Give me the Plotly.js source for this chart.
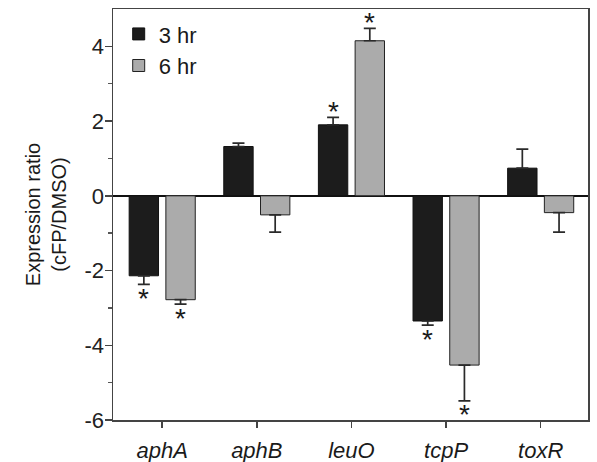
<!DOCTYPE html>
<html><head><meta charset="utf-8">
<script src="https://cdn.plot.ly/plotly-3.0.1.min.js"></script>
<style>html,body{margin:0;padding:0;background:#fff}#chart{width:597px;height:462px}</style>
</head><body><div id="chart"></div>
<script>
const genes = ['aphA', 'aphB', 'leuO', 'tcpP', 'toxR'];
const seriesNames = ['3 hr', '6 hr'];
const ratio3hr = [-2.14, 1.32, 1.90, -3.35, 0.74];
const err3hr = [0.23, 0.09, 0.20, 0.11, 0.51];
const ratio6hr = [-2.78, -0.51, 4.15, -4.53, -0.45];
const err6hr = [0.12, 0.46, 0.33, 0.96, 0.52];
const sig3hr = [true, false, true, true, false];
const sig6hr = [true, false, true, true, false];
const yTickVals = [-6, -4, -2, 0, 2, 4];
const yTickText = ['-6', '-4', '-2', '0', '2', '4'];
const yMinorVals = [-5, -3, -1, 1, 3];

const FONT = 'Liberation Sans, Arial, sans-serif';
const TXT = '#1a1a1a';

function errObj(vals, errs) {
  return {
    type: 'data', symmetric: false,
    array: vals.map((v, i) => v >= 0 ? errs[i] : 0),
    arrayminus: vals.map((v, i) => v < 0 ? errs[i] : 0),
    color: '#2a2a2a', thickness: 1.7, width: 6, visible: true
  };
}

const traces = [
  {type: 'bar', name: seriesNames[0], x: genes, y: ratio3hr,
   marker: {color: '#1c1c1c', line: {color: '#111', width: 1}},
   error_y: errObj(ratio3hr, err3hr)},
  {type: 'bar', name: seriesNames[1], x: genes, y: ratio6hr,
   marker: {color: '#ababab', line: {color: '#222', width: 1}},
   error_y: errObj(ratio6hr, err6hr)}
];

const annotations = [];
function addStars(vals, errs, sig, shift) {
  vals.forEach((v, i) => {
    if (!sig[i]) return;
    const pos = v >= 0;
    annotations.push({
      xref: 'x', yref: 'y', x: genes[i], y: pos ? v + errs[i] : v - errs[i],
      xshift: shift, yshift: pos ? 6 : -14, yanchor: 'middle', xanchor: 'center',
      text: '*', showarrow: false, font: {family: FONT, size: 28, color: TXT}
    });
  });
}
addStars(ratio3hr, err3hr, sig3hr, -18.3);
addStars(ratio6hr, err6hr, sig6hr, 18.3);

const layout = {
  width: 597, height: 462,
  margin: {l: 113, r: 9, t: 9, b: 42, pad: 0},
  paper_bgcolor: '#fff', plot_bgcolor: '#fff',
  font: {family: FONT, size: 20, color: TXT},
  barmode: 'group', bargap: 0.224, bargroupgap: 0.2,
  showlegend: true,
  legend: {x: 0.012, y: 0.99, xanchor: 'left', yanchor: 'top', bgcolor: 'rgba(0,0,0,0)',
           font: {family: FONT, size: 22, color: TXT}, itemclick: false},
  xaxis: {type: 'category', range: [-0.52, 4.5], showgrid: false, zeroline: false,
          showline: true, linecolor: '#444', linewidth: 1.5, mirror: true,
          ticks: 'outside', ticklen: 6, tickwidth: 1.5, tickcolor: '#444', ticklabelstandoff: 4,
          tickfont: {family: FONT, size: 22, color: TXT, style: 'italic'}},
  yaxis: {range: [-6, 5], showgrid: false,
          zeroline: true, zerolinecolor: '#111', zerolinewidth: 2,
          showline: true, linecolor: '#444', linewidth: 1.5, mirror: true,
          tickmode: 'array', tickvals: yTickVals, ticktext: yTickText,
          ticks: 'outside', ticklen: 7, tickwidth: 1.5, tickcolor: '#444', ticklabelstandoff: -4,
          minor: {tickmode: 'array', tickvals: yMinorVals, ticks: 'outside', ticklen: 4, tickwidth: 1.5, tickcolor: '#555'},
          tickfont: {family: FONT, size: 22, color: '#222'},
          title: {text: 'Expression ratio<br>(cFP/DMSO)', font: {family: FONT, size: 20, color: TXT}, standoff: 12}}
  ,annotations: annotations
};

Plotly.newPlot('chart', traces, layout, {displayModeBar: false, staticPlot: true});
</script>
</body></html>
